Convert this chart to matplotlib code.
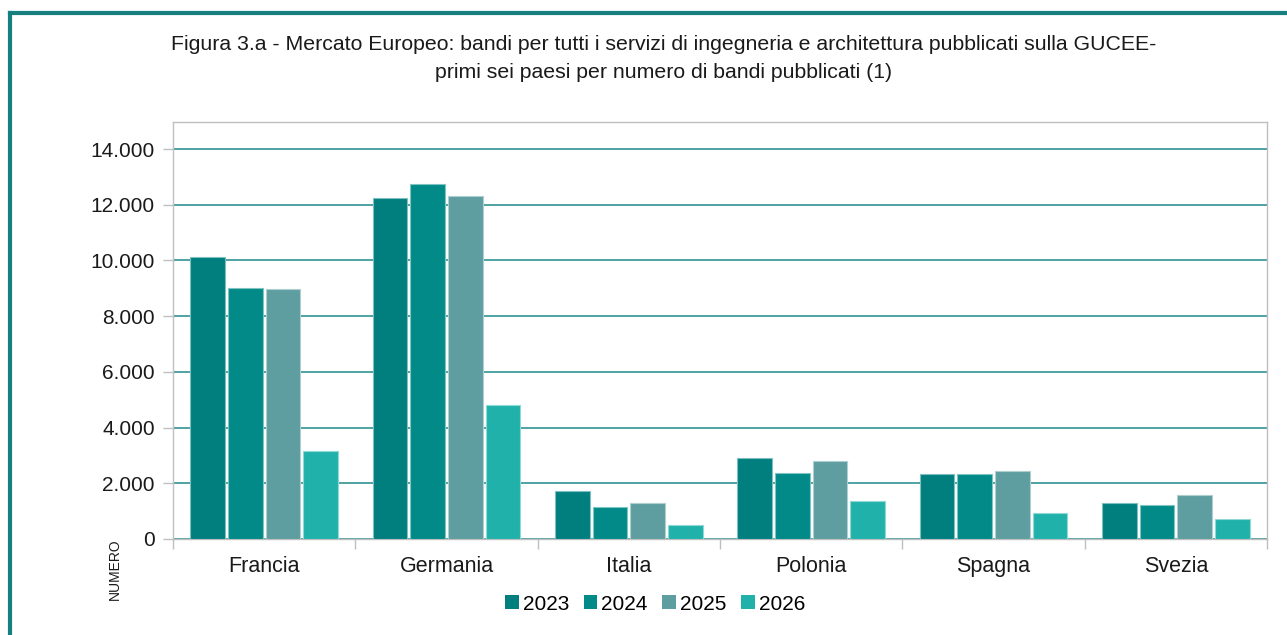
import matplotlib
matplotlib.use("Agg")
import matplotlib.pyplot as plt
import numpy as np
from matplotlib.lines import Line2D
from matplotlib.ticker import FixedLocator, FuncFormatter

categories = ["Francia", "Germania", "Italia", "Polonia", "Spagna", "Svezia"]
years = ["2023", "2024", "2025", "2026"]
v2023 = [10120, 12240, 1730, 2920, 2350, 1280]
v2024 = [9010, 12740, 1160, 2360, 2330, 1230]
v2025 = [8970, 12310, 1300, 2800, 2440, 1570]
v2026 = [3160, 4810, 510, 1370, 940, 720]
series = [v2023, v2024, v2025, v2026]
colors = ["#017f7f", "#018a87", "#5f9ea0", "#20b2aa"]
edges = ["#7fbfbf", "#7fc4c3", "#afcecf", "#8fd8d4"]

plt.rcParams['font.family'] = ['Liberation Sans', 'DejaVu Sans']

fig = plt.figure(figsize=(12.87, 6.35), dpi=100)
ax = fig.add_axes([173/1287, 1-539/635, (1267-173)/1287, (539-122)/635])

x = np.arange(len(categories))
pitch = 0.207
for k, (vals, c, ec, yr) in enumerate(zip(series, colors, edges, years)):
    ax.bar(x + (k - 1.5) * pitch, vals, width=0.19, color=c, edgecolor=ec,
           linewidth=0.8, label=yr, zorder=3)

ax.set_xlim(-0.5, len(categories) - 0.5)
ax.set_ylim(0, 14970)
ax.yaxis.set_major_locator(FixedLocator(np.arange(0, 14001, 2000)))
ax.yaxis.set_major_formatter(FuncFormatter(lambda v, p: f"{int(v):,}".replace(",", ".")))
ax.grid(axis="y", color="#1f8a8a", linewidth=1.1, zorder=0)
ax.set_axisbelow(True)

ax.set_xticks(x)
ax.set_xticklabels(categories)
ax.set_xticks(np.arange(-0.5, len(categories), 1), minor=True)
ax.tick_params(axis="x", which="major", length=0, pad=12, labelsize=15.5, labelcolor="#1a1a1a")
ax.tick_params(axis="x", which="minor", length=7, color="#bfbfbf", width=1)
ax.tick_params(axis="y", length=7, color="#bfbfbf", width=1, pad=6, labelsize=15, labelcolor="#1a1a1a")

for s in ax.spines.values():
    s.set_color("#bfbfbf")
    s.set_linewidth(1)

fig.text(664/1287, 1-45/635, "Figura 3.a - Mercato Europeo: bandi per tutti i servizi di ingegneria e architettura pubblicati sulla GUCEE-",
         ha="center", va="center", fontsize=15.3, color="#1a1a1a")
fig.text(664/1287, 1-72/635, "primi sei paesi per numero di bandi pubblicati (1)",
         ha="center", va="center", fontsize=15.3, color="#1a1a1a")

fig.text(115/1287, 1-569/635, "NUMERO", rotation=90, ha="center", va="center", fontsize=10, color="#1a1a1a")

leg = fig.legend(loc="center", bbox_to_anchor=(655/1287, 1-604/635), ncol=4, frameon=False,
                 fontsize=15, handlelength=0.65, handleheight=0.65, handletextpad=0.2,
                 columnspacing=0.7)
for h in leg.legend_handles:
    h.set_linewidth(0)

# border
fig.add_artist(Line2D([10/1287, 10/1287], [-0.1, 1-13/635], color="#17807e", linewidth=3, transform=fig.transFigure))
fig.add_artist(Line2D([10/1287, 1.1], [1-13/635, 1-13/635], color="#17807e", linewidth=3, transform=fig.transFigure))

fig.savefig("out.png", dpi=100)
